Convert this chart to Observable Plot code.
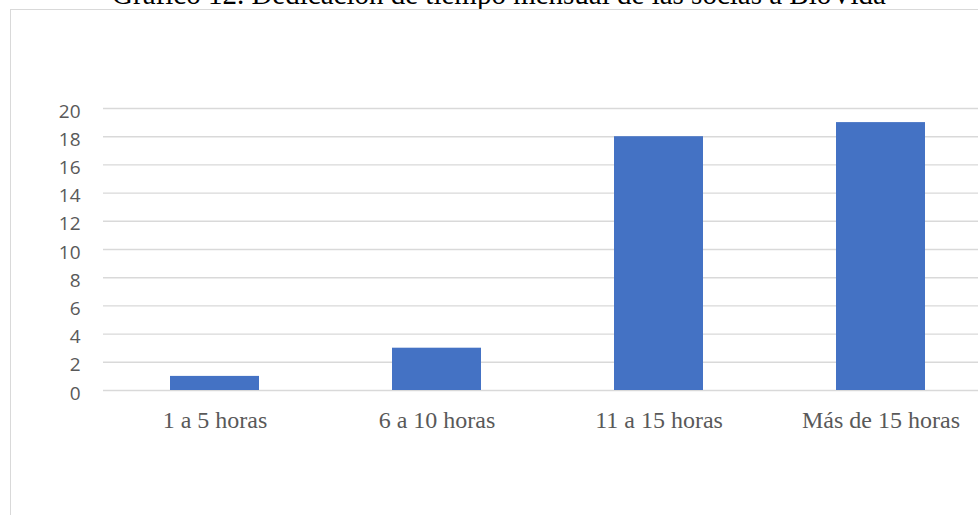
<!DOCTYPE html>
<html>
<head>
<meta charset="utf-8">
<script src="https://cdn.jsdelivr.net/npm/d3@7"></script>
<script src="https://cdn.jsdelivr.net/npm/@observablehq/plot@0.6"></script>
<style>
  html, body { margin: 0; padding: 0; background: #fff; }
  body { width: 978px; height: 515px; overflow: hidden; position: relative; }
  #title {
    position: absolute; left: 0; top: -20px; width: 998px;
    text-align: center; font: 29px "Liberation Serif", "Times New Roman", serif;
    line-height: 1; color: #000; white-space: nowrap;
  }
  #frame {
    position: absolute; left: 10px; top: 9px; width: 1100px; height: 700px;
    border: 1px solid #d9d9d9; box-sizing: border-box;
  }
  #chart { position: absolute; left: 0; top: 0; }
</style>
</head>
<body>
<div id="title">Gráfico 12. Dedicación de tiempo mensual de las socias a BioVida</div>
<div id="frame"></div>
<div id="chart"></div>
<script>
// Horas dedicadas al mes y número de socias en cada tramo
const categories = ["1 a 5 horas", "6 a 10 horas", "11 a 15 horas", "Más de 15 horas"];
const socias = [1, 3, 18, 19];
const yTicks = [0, 2, 4, 6, 8, 10, 12, 14, 16, 18, 20];

const data = categories.map((c, i) => ({categoria: c, socias: socias[i]}));

const chart = Plot.plot({
  width: 978,
  height: 515,
  marginLeft: 103,
  marginRight: 0,
  marginTop: 108,
  marginBottom: 125,
  style: {background: "transparent", overflow: "visible"},
  x: {domain: categories, range: [102.4, 991.7], paddingInner: 0.6, paddingOuter: 0.3, label: null},
  y: {domain: [0, 20], label: null},
  marks: [
    Plot.ruleY(yTicks, {stroke: "#d9d9d9", strokeWidth: 1.4}),
    Plot.barY(data, {x: "categoria", y: "socias", fill: "#4472c4"}),
    Plot.axisY(yTicks, {
      tickSize: 0, tickPadding: 23, dy: 3,
      fontSize: 19, fontFamily: "'Open Sans', sans-serif", fill: "#595959"
    }),
    Plot.axisX({
      tickSize: 0, tickPadding: 20,
      fontSize: 24, fontFamily: "'Liberation Serif', 'Times New Roman', serif", fill: "#595959"
    })
  ]
});
document.getElementById("chart").appendChild(chart);
</script>
</body>
</html>
